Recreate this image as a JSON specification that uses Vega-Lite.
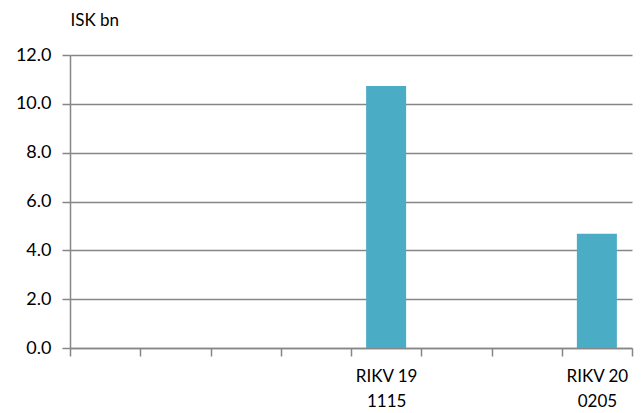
{
  "$schema": "https://vega.github.io/schema/vega-lite/v6.json",
  "width": 562,
  "height": 293,
  "autosize": {"type": "none"},
  "padding": {"left": 70, "top": 55, "right": 9, "bottom": 65},
  "background": "white",
  "config": {
    "view": {"stroke": null},
    "font": "Lato"
  },
  "data": {
    "values": [
      {"security": "RIKV 19|1115", "value": 10.73},
      {"security": "RIKV 20|0205", "value": 4.68}
    ]
  },
  "mark": {"type": "bar", "color": "#4BACC6", "size": 40},
  "encoding": {
    "x": {
      "field": "security",
      "type": "nominal",
      "sort": null,
      "scale": {"domain": [" ", "  ", "   ", "    ", "RIKV 19|1115", "     ", "      ", "RIKV 20|0205"], "paddingInner": 0, "paddingOuter": 0},
      "axis": {
        "title": null,
        "labelAngle": 0,
        "labelExpr": "isString(datum.value) ? split(datum.value, '|') : ' '",
        "labelFontSize": 17,
        "labelColor": "#000000",
        "labelLineHeight": 25,
        "labelPadding": 12,
        "tickBand": "extent",
        "tickSize": 8,
        "tickColor": "#868686",
        "domainColor": "#868686",
        "domainWidth": 1.5,
        "tickWidth": 1.5,
        "grid": false
      }
    },
    "y": {
      "field": "value",
      "type": "quantitative",
      "scale": {"domain": [0, 12]},
      "axis": {
        "title": "ISK bn",
        "titleAngle": 0,
        "titleAlign": "left",
        "titleBaseline": "middle",
        "titleX": 0,
        "titleY": -35,
        "titleFontSize": 17,
        "titleFontWeight": "normal",
        "titleColor": "#000000",
        "values": [0, 2, 4, 6, 8, 10, 12],
        "labelFontSize": 18,
        "labelColor": "#000000",
        "labelPadding": 11,
        "format": ".1f",
        "tickSize": 8,
        "tickColor": "#868686",
        "tickWidth": 1.5,
        "domainColor": "#868686",
        "domainWidth": 1.5,
        "gridColor": "#868686",
        "gridWidth": 1.5
      }
    }
  }
}
